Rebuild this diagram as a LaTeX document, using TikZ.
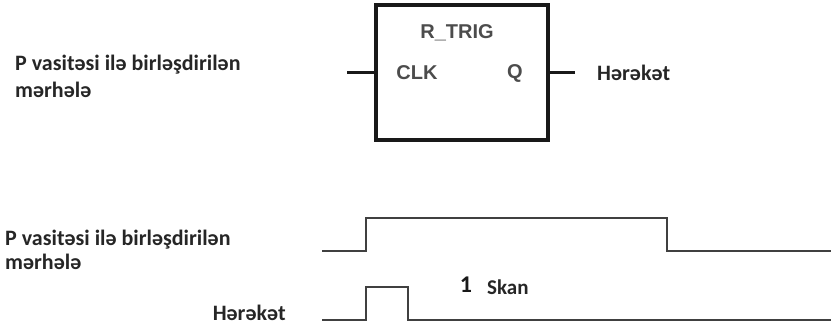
\documentclass[tikz,border=0pt]{standalone}
\usepackage{fontspec}
\setmainfont{Carlito}
\newfontfamily\pinfont{Liberation Sans}
\begin{document}
\begin{tikzpicture}[x=1pt,y=-1pt,
  lbl/.style={font=\fontsize{22}{27}\selectfont\bfseries, text=black!85, inner sep=0pt},
  pin/.style={font=\pinfont\fontsize{20}{22}\selectfont\bfseries, text=black!70, inner sep=0pt},
  sig/.style={line width=2.4pt, draw=black!75},
  wire/.style={line width=3pt, draw=black!90}]
\useasboundingbox (0,0) rectangle (831,329);
% function block
\node[draw=black!90, line width=3.2pt, minimum width=172pt, minimum height=135pt, inner sep=0pt] (box) at (462,72.5) {};
\node[pin] (title) at (457,33) {R\_TRIG};
\node[pin] (clk) at (417,73) {CLK};
\node[pin] (q) at (515,73) {Q};
\coordinate (inL) at (347,73);
\coordinate (outR) at (575,73);
\draw[wire] (inL) -- (box.west |- inL);
\draw[wire] (box.east |- outR) -- (outR);
\node[lbl, anchor=west] (act1) at (597,73) {Hərəkət};
\node[lbl, anchor=base west, align=left] (step1) at (15,98) {P vasitəsi ilə birləşdirilən\\mərhələ};
% timing
\node[lbl, font=\fontsize{22}{24}\selectfont\bfseries, anchor=base west, align=left] (step2) at (5,269) {P vasitəsi ilə birləşdirilən\\mərhələ};
\node[lbl, anchor=east] (act2) at (286,313) {Hərəkət};
\coordinate (s1a) at (322,251);
\coordinate (s1b) at (366,251);
\coordinate (s1c) at (366,218);
\coordinate (s1d) at (667,218);
\coordinate (s1e) at (667,251);
\coordinate (s1f) at (831,251);
\draw[sig] (s1a) -- (s1b) -- (s1c) -- (s1d) -- (s1e) -- (s1f);
\coordinate (s2a) at (322,320);
\coordinate (s2b) at (366,320);
\coordinate (s2c) at (366,287);
\coordinate (s2d) at (408,287);
\coordinate (s2e) at (408,320);
\coordinate (s2f) at (831,320);
\draw[sig] (s2a) -- (s2b) -- (s2c) -- (s2d) -- (s2e) -- (s2f);
\node[font=\fontsize{24}{26}\selectfont\bfseries, text=black!90, inner sep=0pt] (one) at (466,285) {1};
\node[font=\fontsize{21}{24}\selectfont\bfseries, text=black!85, inner sep=0pt, anchor=west] (skan) at (487,287) {Skan};
\end{tikzpicture}
\end{document}
